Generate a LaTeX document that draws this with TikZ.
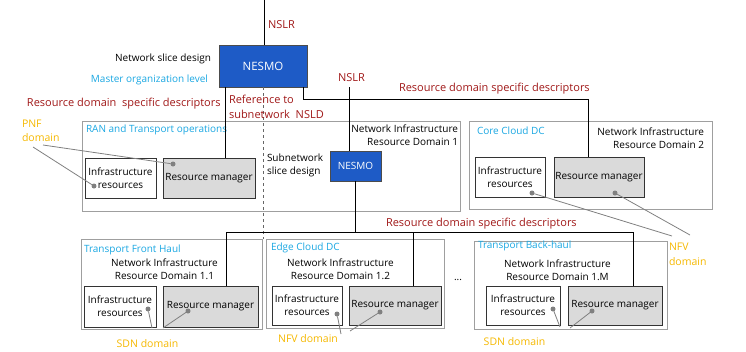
\documentclass[tikz,border=0pt]{standalone}
\usepackage{fontspec}
\setmainfont{Open Sans}
\definecolor{descred}{HTML}{A01818}
\definecolor{lvlblue}{HTML}{1AA7E2}
\definecolor{domgold}{HTML}{F5B800}
\definecolor{nesmoblue}{HTML}{1E5BC6}
\definecolor{mgrgray}{HTML}{DADADA}

\begin{document}
\begin{tikzpicture}[x=1pt, y=-1pt, line width=0.8pt,
    every node/.style={font=\fontsize{10}{13}\selectfont, inner sep=1pt, outer sep=0pt},
    domainbox/.style={draw=gray!75, anchor=north west},
    infrabox/.style={draw=black!80, fill=white, anchor=north west, align=center},
    mgrbox/.style={draw=black!80, fill=mgrgray, anchor=north west},
    nesmobox/.style={draw=black!70, fill=nesmoblue, text=white, anchor=north west},
    desc/.style={text=descred, font=\fontsize{11}{15}\selectfont},
    level/.style={text=lvlblue},
    dom/.style={text=domgold, font=\fontsize{10.5}{14.5}\selectfont, align=left},
    tick/.style={circle, fill=gray, inner sep=0pt, minimum size=5pt},
    pointer/.style={draw=gray}]
  \useasboundingbox (0,0) rectangle (746,351);

  % resource domains
  \node[domainbox, minimum width=378pt, minimum height=90pt] (ran) at (82,121) {};
  \node[domainbox, minimum width=243pt, minimum height=88pt] (core) at (469,121) {};
  \node[domainbox, minimum width=181pt, minimum height=90pt] (fh) at (81,239) {};
  \node[domainbox, minimum width=178pt, minimum height=89pt] (edge) at (266,239) {};
  \node[domainbox, minimum width=193pt, minimum height=88pt] (bh) at (474,241) {};

  \node[level, anchor=west] (ranname) at (85,130) {RAN and Transport operations};
  \node[anchor=east, align=right] (ranid) at (459,135.5) {Network Infrastructure\\Resource Domain 1};
  \node[level, anchor=west] (corename) at (476,131) {Core Cloud DC};
  \node[anchor=east, align=right] (coreid) at (705,138.5) {Network Infrastructure\\Resource Domain 2};
  \node[level, anchor=west] (fhname) at (83,250) {Transport Front Haul};
  \node[align=center] (fhid) at (164.5,269.5) {Network Infrastructure\\Resource Domain 1.1};
  \node[level, anchor=west] (edgename) at (270,248) {Edge Cloud DC};
  \node[align=center] (edgeid) at (340.5,269.5) {Network Infrastructure\\Resource Domain 1.2};
  \node[level, anchor=west] (bhname) at (477,246) {Transport Back-haul};
  \node[align=center] (bhid) at (557.5,270.5) {Network Infrastructure\\Resource Domain 1.M};
  \node (dots) at (458,280) {...};

  % infrastructure and managers
  \node[infrabox, minimum width=71pt, minimum height=40pt] (infraran) at (85,158) {Infrastructure\\resources};
  \node[mgrbox, minimum width=92pt, minimum height=40pt] (mgrran) at (163,158) {Resource manager};
  \node[infrabox, minimum width=70pt, minimum height=40pt] (infracore) at (475,157) {Infrastructure\\resources};
  \node[mgrbox, minimum width=90pt, minimum height=40pt] (mgrcore) at (554,157) {Resource manager};
  \node[infrabox, minimum width=72pt, minimum height=41pt] (infrafh) at (84,286) {Infrastructure\\resources};
  \node[mgrbox, minimum width=95pt, minimum height=41pt] (mgrfh) at (163,286) {Resource manager};
  \node[infrabox, minimum width=70pt, minimum height=39pt] (infraedge) at (272,286) {Infrastructure\\resources};
  \node[mgrbox, minimum width=92pt, minimum height=39pt] (mgredge) at (349,286) {Resource manager};
  \node[infrabox, minimum width=74pt, minimum height=39pt] (infrabh) at (486,286) {Infrastructure\\resources};
  \node[mgrbox, minimum width=94pt, minimum height=39pt] (mgrbh) at (568,286) {Resource manager};

  % orchestrators
  \node[nesmobox, minimum width=88pt, minimum height=42pt, font=\fontsize{11.5}{14}\selectfont] (nesmotop) at (219,45) {NESMO};
  \node[nesmobox, minimum width=51pt, minimum height=30pt] (nesmosub) at (330,151) {NESMO};

  \node[anchor=east] (design) at (212,59) {Network slice design};
  \node[level, anchor=east] (master) at (209,80) {Master organization level};
  \node[anchor=west, align=left] (subdesign) at (266,165) {Subnetwork\\slice design};

  % descriptor links
  \coordinate (nslrin) at (264,0);
  \coordinate (nslrtwo) at (349,87);
  \coordinate (busl) at (226,232);
  \coordinate (busm) at (413,232);
  \coordinate (busr) at (633,232);
  \draw (nslrin) -- (nslrin |- nesmotop.north);
  \node[desc, anchor=west] (nslra) at (267,25) {NSLR};
  \draw ([xshift=6pt]nesmotop.south west) -- ([xshift=6pt]nesmotop.south west |- mgrran.north);
  \draw[dashed, black!60] (nesmotop.south) -- (nesmotop.south |- edge.north);
  \draw ([xshift=-4pt]nesmotop.south east) -- ++(0,12) -| ([xshift=-11pt]mgrcore.north);
  \draw (nslrtwo) -- (nslrtwo |- nesmosub.north);
  \node[desc, anchor=west] (nslrb) at (337,78) {NSLR};
  \draw (nesmosub.south) -- (nesmosub.south |- busl);
  \draw (busl |- mgrfh.north) -- (busl) -- (busr) -- (busr |- mgrbh.north);
  \draw (busm) -- (busm |- mgredge.north);

  \node[desc, anchor=west] (desca) at (26,104) {Resource domain\ \ specific descriptors};
  \node[desc, anchor=west, align=left] (nsldref) at (228,106.5) {Reference to\\subnetwork\ \ NSLD};
  \node[desc, anchor=west] (descb) at (398,89) {Resource domain specific descriptors};
  \node[desc, anchor=west] (descc) at (385,224) {Resource domain specific descriptors};

  % technology domains
  \node[dom, anchor=west] (pnf) at (21,131) {PNF\\domain};
  \node[dom, anchor=west] (nfvcore) at (668,254.5) {NFV\\domain};
  \node[dom] (sdnfh) at (147.5,344) {SDN domain};
  \node[dom] (nfvedge) at (308,339) {NFV domain};
  \node[dom] (sdnbh) at (514.5,342) {SDN domain};

  \node[tick] (tinfraran) at (94,186) {};
  \node[tick] (tmgrran) at (173,164) {};
  \node[tick] (tinfracore) at (532,193) {};
  \node[tick] (tmgrcore) at (615,193) {};
  \node[tick] (tinfrafh) at (148,309) {};
  \node[tick] (tmgrfh) at (188,311) {};
  \node[tick] (tinfraedge) at (337,314) {};
  \node[tick] (tmgredge) at (380,312) {};
  \node[tick] (tinfrabh) at (553,309) {};
  \node[tick] (tmgrbh) at (592,311) {};

  \coordinate (pnfa) at (33,147);
  \coordinate (pnfb) at (43,145);
  \coordinate (nfva) at (672,236);
  \coordinate (nfvb) at (690,235);
  \coordinate (sdna) at (152,328);
  \coordinate (sdnb) at (163,328);
  \coordinate (nfvc) at (341,334);
  \coordinate (nfvd) at (350,331);
  \coordinate (sdnc) at (560,327);
  \coordinate (sdnd) at (570,328);
  \draw[pointer] (pnfa) -- (tinfraran);
  \draw[pointer] (pnfb) -- (tmgrran);
  \draw[pointer] (tinfracore) -- (nfva);
  \draw[pointer] (tmgrcore) -- (nfvb);
  \draw[pointer] (tinfrafh) -- (sdna);
  \draw[pointer] (tmgrfh) -- (sdnb);
  \draw[pointer] (tinfraedge) -- (nfvc);
  \draw[pointer] (tmgredge) -- (nfvd);
  \draw[pointer] (tinfrabh) -- (sdnc);
  \draw[pointer] (tmgrbh) -- (sdnd);
\end{tikzpicture}
\end{document}
